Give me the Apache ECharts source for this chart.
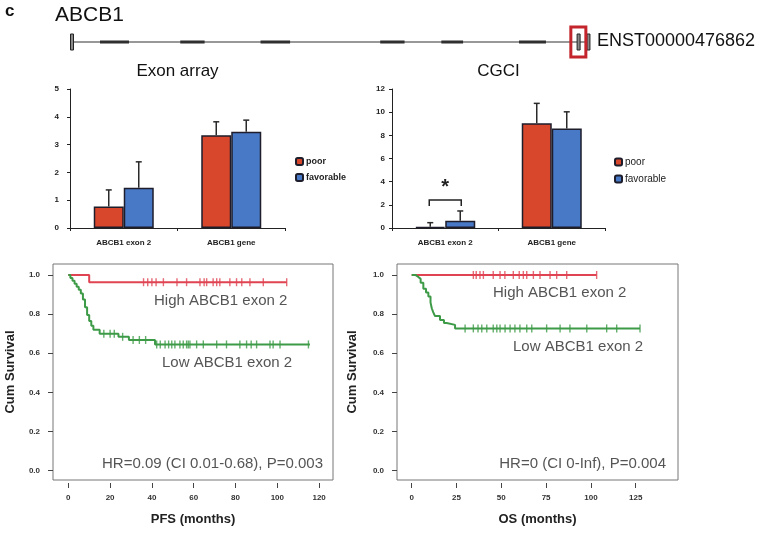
<!DOCTYPE html>
<html>
<head>
<meta charset="utf-8">
<script src="https://cdn.jsdelivr.net/npm/echarts@6/dist/echarts.min.js"></script>
<style>
html,body{margin:0;padding:0;background:#fff;}
#chart{width:762px;height:533px;}
</style>
</head>
<body>
<div id="chart"></div>
<script>
// ---------- DATA ----------
const barCategories = ['ABCB1 exon 2', 'ABCB1 gene'];
const exonPoor = [0.77, 3.34];
const exonPoorSD = [0.60, 0.48];
const exonFav = [1.45, 3.46];
const exonFavSD = [0.93, 0.42];
const cgciPoor = [0.10, 9.04];
const cgciPoorSD = [0.36, 1.72];
const cgciFav = [0.63, 8.60];
const cgciFavSD = [0.84, 1.43];
const cgciSignif = [[0, 2.42]]; // category, bracket level

// Kaplan-Meier PFS
const pfsHighT = [0, 10, 104.5];
const pfsHighS = [1.0, 0.963, 0.963];
const pfsHighCensor = [36, 38, 40, 42, 45.5, 52, 56.6, 63, 65, 66.2, 69.3, 71, 72.5, 77.3, 80.5, 83, 86.9, 93.3, 104.5];
const pfsLowT = [0, 1, 2, 3, 4, 5, 6, 7, 8, 9, 10, 11, 12, 15, 24, 29, 41.5, 115.6];
const pfsLowS = [1.0, 0.985, 0.97, 0.955, 0.94, 0.925, 0.905, 0.875, 0.835, 0.795, 0.765, 0.74, 0.72, 0.70, 0.684, 0.668, 0.645, 0.645];
const pfsLowCensor = [17, 20, 22, 26, 31, 34, 37, 42.3, 44, 46.3, 48, 49.5, 51, 53.4, 55, 56.6, 57.4, 58.2, 61.4, 64.6, 71, 75.7, 82.1, 85.3, 87.5, 90.1, 96.5, 98, 101.3, 114.9];
const pfsXTicks = [0, 20, 40, 60, 80, 100, 120];

// Kaplan-Meier OS
const osHighT = [0, 103.2];
const osHighS = [1.0, 1.0];
const osHighCensor = [34.4, 36, 38.1, 40, 45.5, 49.3, 52, 56.7, 60, 62.3, 64.2, 67.9, 71.6, 77.2, 80.9, 86.5, 103.2];
const osLowT = [0, 2, 3.7, 5, 6.5, 8, 9.3, 10.5, 11.2, 12, 13, 15.8, 18, 19.5, 24.2, 127.4];
const osLowS = [1.0, 0.99, 0.98, 0.96, 0.93, 0.91, 0.89, 0.86, 0.83, 0.81, 0.79, 0.77, 0.755, 0.745, 0.727, 0.727];
const osLowCensor = [29.8, 34.4, 37, 39.1, 41.9, 45.5, 47.5, 49.3, 52.1, 54.9, 57.6, 60.4, 64.2, 67, 75.3, 82.8, 88.3, 97.7, 108.8, 114.4, 127.4];
const osXTicks = [0, 25, 50, 75, 100, 125];
const kmYTicks = [0, 0.2, 0.4, 0.6, 0.8, 1.0];

// Gene structure (relative positions along the ABCB1 locus)
const geneSpan = [[0, 0.5], [1, 0.5]];
const geneExonStart = [0.054, 0.209, 0.364, 0.595, 0.713, 0.863];
const geneExonEnd = [0.110, 0.256, 0.421, 0.642, 0.755, 0.915];
const geneMarkers = [0, 0.978, 0.997];
const geneHighlight = [[0.963, 0.992]];

// ---------- HELPERS ----------
const FONT = 'Liberation Sans, Arial, sans-serif';
const RED_BAR = '#d8472b';
const BLUE_BAR = '#4879c6';
const BAR_BORDER = '#1d1d2b';
const KM_RED = '#e04452';
const KM_GREEN = '#3d9a47';
const BAR_W = 30;

function steps(T, S) { return T.map((t, i) => [t, S[i]]); }
function survAt(T, S, t) { let v = S[0]; for (let i = 0; i < T.length; i++) { if (T[i] <= t) v = S[i]; } return v; }
function censors(T, S, C) { return C.map(t => [t, survAt(T, S, t)]); }

function errRender(sign) {
  return function (params, api) {
    const cat = api.value(0), v = api.value(1), sd = api.value(2);
    const p0 = api.coord([cat, v]);
    const p1 = api.coord([cat, v + sd]);
    const x = p0[0] + sign * BAR_W / 2;
    return {
      type: 'group', children: [
        { type: 'line', shape: { x1: x, y1: p0[1], x2: x, y2: p1[1] }, style: { stroke: '#2a2a2a', lineWidth: 1.5 } },
        { type: 'line', shape: { x1: x - 3, y1: p1[1], x2: x + 3, y2: p1[1] }, style: { stroke: '#2a2a2a', lineWidth: 1.5 } }
      ]
    };
  };
}

function barYAxis(grid, max, interval, margin) {
  return {
    type: 'value', gridIndex: grid, min: 0, max: max, interval: interval,
    axisLine: { show: true, lineStyle: { color: '#222', width: 1 } },
    axisTick: { show: true, inside: false, length: 3, lineStyle: { color: '#222' } },
    axisLabel: { fontSize: 8, fontWeight: 'bold', color: '#222', margin: margin, fontFamily: FONT },
    splitLine: { show: false }
  };
}
function barXAxis(grid) {
  return {
    type: 'category', gridIndex: grid, data: barCategories,
    axisLine: { show: true, lineStyle: { color: '#222', width: 1 } },
    axisTick: { show: true, length: 3, alignWithLabel: false, lineStyle: { color: '#222' } },
    axisLabel: { fontSize: 8, fontWeight: 'bold', color: '#222', margin: 11, fontFamily: FONT }
  };
}
function kmXAxis(grid, min, max, ticks, name) {
  return {
    type: 'value', gridIndex: grid, min: min, max: max, offset: 3,
    axisLine: { show: false, onZero: false },
    axisTick: { show: true, customValues: ticks, length: 5, inside: false, lineStyle: { color: '#444' } },
    axisLabel: { customValues: ticks, fontSize: 8, fontWeight: 'bold', color: '#333', margin: 11, fontFamily: FONT },
    splitLine: { show: false },
    name: name, nameLocation: 'middle', nameGap: 30,
    nameTextStyle: { fontSize: 13, fontWeight: 'bold', color: '#222', fontFamily: FONT }
  };
}
function kmYAxis(grid, gap) {
  return {
    type: 'value', gridIndex: grid, min: -0.0475, max: 1.056,
    axisLine: { show: false, onZero: false },
    axisTick: { show: true, customValues: kmYTicks, length: 5, inside: false, lineStyle: { color: '#444' } },
    axisLabel: { customValues: kmYTicks, formatter: v => v.toFixed(1), fontSize: 8, fontWeight: 'bold', color: '#333', margin: 13, fontFamily: FONT },
    splitLine: { show: false },
    name: 'Cum Survival', nameLocation: 'middle', nameGap: gap,
    nameTextStyle: { fontSize: 13, fontWeight: 'bold', color: '#222', fontFamily: FONT }
  };
}

const barStyle = c => ({ color: c, borderColor: BAR_BORDER, borderWidth: 1.5 });

const option = {
  animation: false,
  backgroundColor: '#fff',
  textStyle: { fontFamily: FONT },
  grid: [
    { left: 70, top: 89, width: 215, height: 139 },
    { left: 392, top: 89, width: 213, height: 139 },
    { left: 53, top: 264, width: 280, height: 216, show: true, borderColor: '#777', borderWidth: 1, backgroundColor: 'transparent' },
    { left: 397, top: 264, width: 281, height: 216, show: true, borderColor: '#777', borderWidth: 1, backgroundColor: 'transparent' },
    { left: 72, top: 26, width: 518, height: 32 }
  ],
  legend: [
    { data: ['poor', 'favorable'], orient: 'vertical', left: 290, top: 152, itemWidth: 7, itemHeight: 7, itemGap: 7,
      selectedMode: false, textStyle: { fontSize: 9, fontWeight: 'bold', color: '#222', fontFamily: FONT, padding: [0, 0, 0, -2] } },
    { data: ['poor', 'favorable'], orient: 'vertical', left: 609, top: 152, itemWidth: 7, itemHeight: 7, itemGap: 7,
      selectedMode: false, textStyle: { fontSize: 10, color: '#222', fontFamily: FONT, padding: [0, 0, 0, -2] } }
  ],
  xAxis: [
    barXAxis(0),
    barXAxis(1),
    kmXAxis(2, -7.32, 126.65, pfsXTicks, 'PFS (months)'),
    kmXAxis(3, -8.2, 148.6, osXTicks, 'OS (months)'),
    { type: 'value', gridIndex: 4, min: 0, max: 1, show: false }
  ],
  yAxis: [
    barYAxis(0, 5, 1, 11),
    barYAxis(1, 12, 2, 7),
    kmYAxis(2, 36),
    kmYAxis(3, 38),
    { type: 'value', gridIndex: 4, min: 0, max: 1, show: false }
  ],
  series: [
    // Exon array bars
    { name: 'poor', type: 'bar', xAxisIndex: 0, yAxisIndex: 0, data: exonPoor, barWidth: BAR_W, barGap: '0%', itemStyle: barStyle(RED_BAR) },
    { name: 'favorable', type: 'bar', xAxisIndex: 0, yAxisIndex: 0, data: exonFav, barWidth: BAR_W, barGap: '0%', itemStyle: barStyle(BLUE_BAR) },
    { name: 'errExonPoor', type: 'custom', xAxisIndex: 0, yAxisIndex: 0, z: 5, renderItem: errRender(-1),
      data: exonPoor.map((v, i) => [i, v, exonPoorSD[i]]) },
    { name: 'errExonFav', type: 'custom', xAxisIndex: 0, yAxisIndex: 0, z: 5, renderItem: errRender(1),
      data: exonFav.map((v, i) => [i, v, exonFavSD[i]]) },
    // CGCI bars
    { name: 'poor', type: 'bar', xAxisIndex: 1, yAxisIndex: 1, data: cgciPoor, barWidth: BAR_W, barGap: '0%', itemStyle: barStyle(RED_BAR) },
    { name: 'favorable', type: 'bar', xAxisIndex: 1, yAxisIndex: 1, data: cgciFav, barWidth: BAR_W, barGap: '0%', itemStyle: barStyle(BLUE_BAR) },
    { name: 'errCgciPoor', type: 'custom', xAxisIndex: 1, yAxisIndex: 1, z: 5, renderItem: errRender(-1),
      data: cgciPoor.map((v, i) => [i, v, cgciPoorSD[i]]) },
    { name: 'errCgciFav', type: 'custom', xAxisIndex: 1, yAxisIndex: 1, z: 5, renderItem: errRender(1),
      data: cgciFav.map((v, i) => [i, v, cgciFavSD[i]]) },
    { name: 'signif', type: 'custom', xAxisIndex: 1, yAxisIndex: 1, z: 6, data: cgciSignif,
      renderItem: function (params, api) {
        const p = api.coord([api.value(0), api.value(1)]);
        const h = BAR_W / 2 + 1;
        return { type: 'group', children: [
          { type: 'polyline', shape: { points: [[p[0] - h, p[1] + 6], [p[0] - h, p[1]], [p[0] + h, p[1]], [p[0] + h, p[1] + 6]] },
            style: { stroke: '#222', lineWidth: 1.5, fill: null } },
          { type: 'text', x: p[0], y: p[1] - 2, style: { text: '*', fontSize: 20, fontWeight: 'bold', fill: '#222', align: 'center', verticalAlign: 'bottom', fontFamily: FONT } }
        ] };
      } },
    // PFS KM
    { name: 'pfsHigh', type: 'line', xAxisIndex: 2, yAxisIndex: 2, step: 'end', symbol: 'none', data: steps(pfsHighT, pfsHighS),
      lineStyle: { color: KM_RED, width: 2 } },
    { name: 'pfsLow', type: 'line', xAxisIndex: 2, yAxisIndex: 2, step: 'end', symbol: 'none', data: steps(pfsLowT, pfsLowS),
      lineStyle: { color: KM_GREEN, width: 2 } },
    { name: 'pfsHighC', type: 'scatter', xAxisIndex: 2, yAxisIndex: 2, symbol: 'rect', symbolSize: [1.4, 8],
      data: censors(pfsHighT, pfsHighS, pfsHighCensor), itemStyle: { color: KM_RED } },
    { name: 'pfsLowC', type: 'scatter', xAxisIndex: 2, yAxisIndex: 2, symbol: 'rect', symbolSize: [1.4, 8],
      data: censors(pfsLowT, pfsLowS, pfsLowCensor), itemStyle: { color: KM_GREEN } },
    // OS KM
    { name: 'osHigh', type: 'line', xAxisIndex: 3, yAxisIndex: 3, step: 'end', symbol: 'none', data: steps(osHighT, osHighS),
      lineStyle: { color: KM_RED, width: 2 } },
    { name: 'osLow', type: 'line', xAxisIndex: 3, yAxisIndex: 3, step: 'end', symbol: 'none', data: steps(osLowT, osLowS),
      lineStyle: { color: KM_GREEN, width: 2 } },
    { name: 'osHighC', type: 'scatter', xAxisIndex: 3, yAxisIndex: 3, symbol: 'rect', symbolSize: [1.4, 8],
      data: censors(osHighT, osHighS, osHighCensor), itemStyle: { color: KM_RED } },
    { name: 'osLowC', type: 'scatter', xAxisIndex: 3, yAxisIndex: 3, symbol: 'rect', symbolSize: [1.4, 8],
      data: censors(osLowT, osLowS, osLowCensor), itemStyle: { color: KM_GREEN } },
    // Gene diagram
    { name: 'geneLine', type: 'line', xAxisIndex: 4, yAxisIndex: 4, data: geneSpan, symbol: 'none',
      lineStyle: { color: '#333', width: 1.2 } },
    { name: 'geneExons', type: 'custom', xAxisIndex: 4, yAxisIndex: 4, z: 3,
      data: geneExonStart.map((s, i) => [s, geneExonEnd[i]]),
      renderItem: function (params, api) {
        const a = api.coord([api.value(0), 0.5]), b = api.coord([api.value(1), 0.5]);
        return { type: 'rect', shape: { x: a[0], y: a[1] - 1.5, width: b[0] - a[0], height: 3 }, style: { fill: '#2c2c2c' } };
      } },
    { name: 'geneMarks', type: 'custom', xAxisIndex: 4, yAxisIndex: 4, z: 4,
      data: geneMarkers.map(v => [v, 0.5]),
      renderItem: function (params, api) {
        const a = api.coord([api.value(0), api.value(1)]);
        return { type: 'rect', shape: { x: a[0] - 1.5, y: a[1] - 8, width: 3, height: 16 }, style: { fill: '#8a8a8a', stroke: '#222', lineWidth: 1 } };
      } },
    { name: 'geneHL', type: 'custom', xAxisIndex: 4, yAxisIndex: 4, z: 5,
      data: geneHighlight,
      renderItem: function (params, api) {
        const a = api.coord([api.value(0), 0.5]), b = api.coord([api.value(1), 0.5]);
        return { type: 'rect', shape: { x: a[0], y: a[1] - 15, width: b[0] - a[0], height: 30 }, style: { fill: null, stroke: '#c4242b', lineWidth: 3 } };
      } }
  ],
  graphic: [
    { type: 'text', left: 5, top: 3, style: { text: 'c', fontSize: 17, fontWeight: 'bold', fill: '#111', fontFamily: FONT } },
    { type: 'text', left: 55, top: 5, style: { text: 'ABCB1', fontSize: 21, fill: '#111', fontFamily: FONT } },
    { type: 'text', left: 597, top: 32, style: { text: 'ENST00000476862', fontSize: 18, fill: '#111', fontFamily: FONT } },
    { type: 'text', x: 177.5, y: 71, style: { text: 'Exon array', fontSize: 17, fill: '#111', align: 'center', verticalAlign: 'middle', fontFamily: FONT } },
    { type: 'text', x: 498.5, y: 71, style: { text: 'CGCI', fontSize: 17, fill: '#111', align: 'center', verticalAlign: 'middle', fontFamily: FONT } },
    { type: 'text', x: 154, y: 301, style: { text: 'High ABCB1 exon 2', fontSize: 15, fill: '#555', verticalAlign: 'middle', fontFamily: FONT } },
    { type: 'text', x: 162, y: 363, style: { text: 'Low ABCB1 exon 2', fontSize: 15, fill: '#555', verticalAlign: 'middle', fontFamily: FONT } },
    { type: 'text', x: 323, y: 464, style: { text: 'HR=0.09 (CI 0.01-0.68), P=0.003', fontSize: 15, fill: '#555', align: 'right', verticalAlign: 'middle', fontFamily: FONT } },
    { type: 'text', x: 493, y: 293, style: { text: 'High ABCB1 exon 2', fontSize: 15, fill: '#555', verticalAlign: 'middle', fontFamily: FONT } },
    { type: 'text', x: 513, y: 347, style: { text: 'Low ABCB1 exon 2', fontSize: 15, fill: '#555', verticalAlign: 'middle', fontFamily: FONT } },
    { type: 'text', x: 666, y: 464, style: { text: 'HR=0 (CI 0-Inf), P=0.004', fontSize: 15, fill: '#555', align: 'right', verticalAlign: 'middle', fontFamily: FONT } }
  ]
};

const chart = echarts.init(document.getElementById('chart'), null, { renderer: 'canvas' });
chart.setOption(option);
</script>
</body>
</html>
